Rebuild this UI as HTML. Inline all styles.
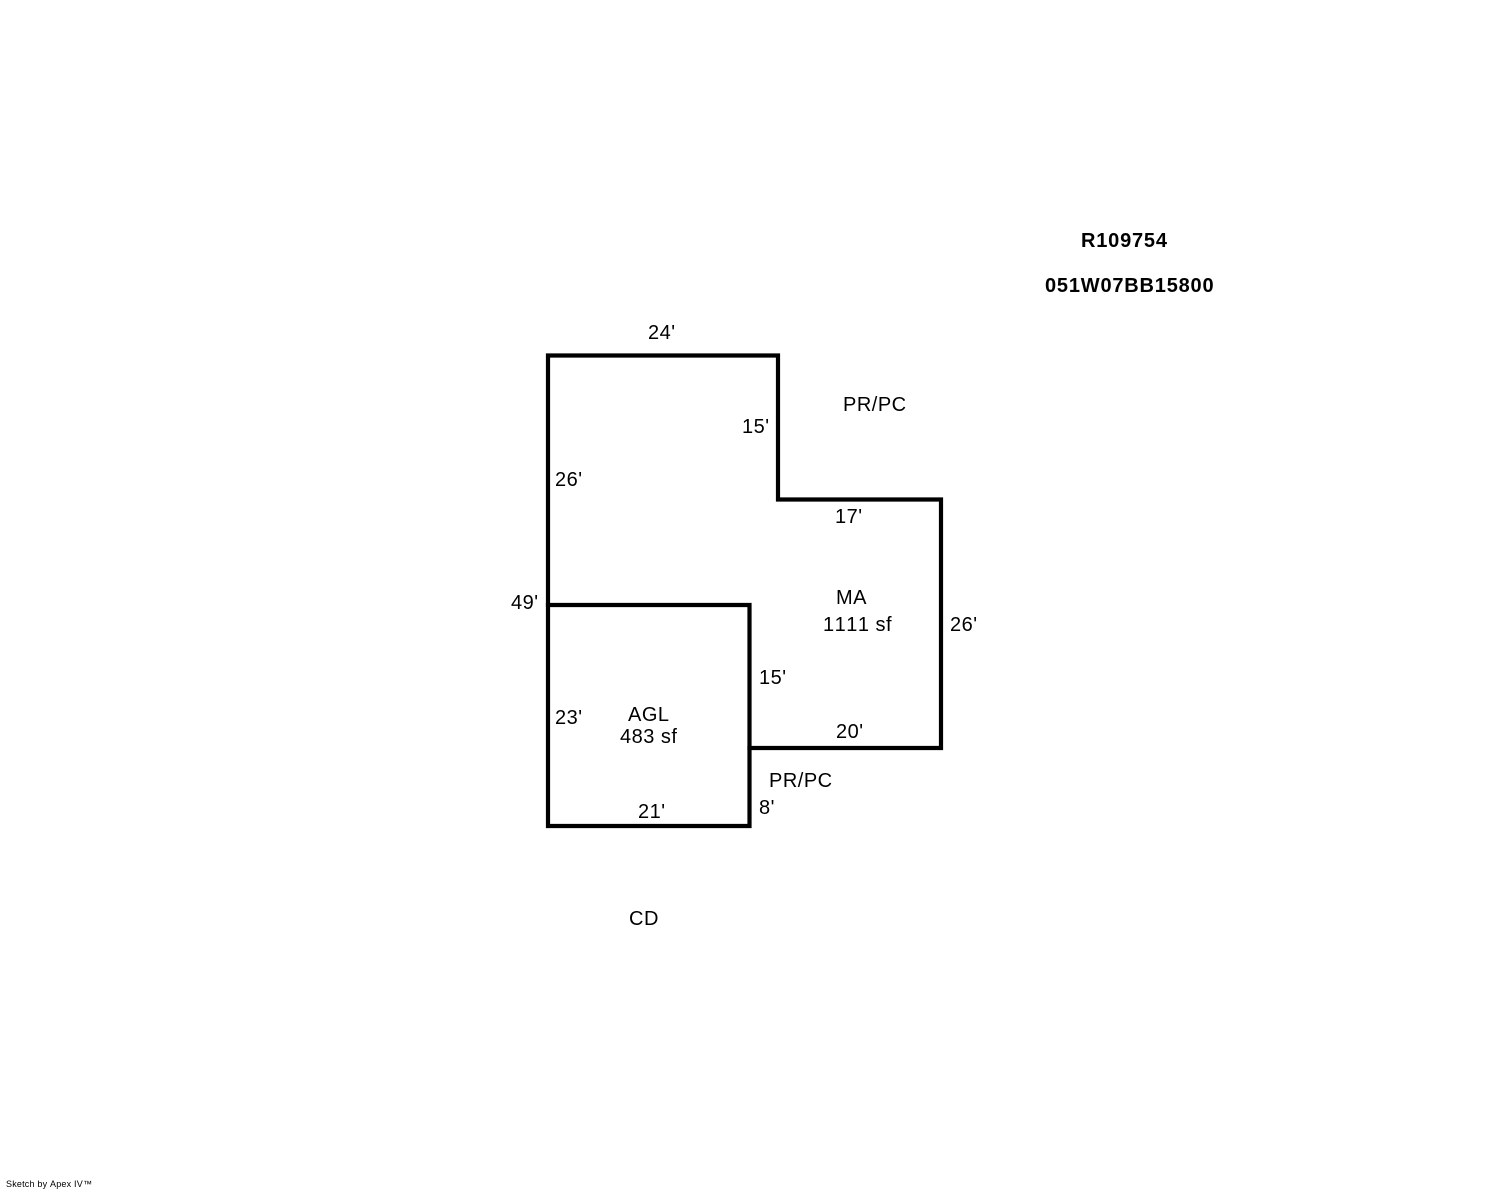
<!DOCTYPE html>
<html><head><meta charset="utf-8"><style>
html,body{margin:0;padding:0;background:#fff;}
svg{display:block;}
text{font-family:"Liberation Sans",Arial,sans-serif;font-size:20px;fill:#000;font-kerning:none;letter-spacing:0.5px;}
.b{font-weight:bold;letter-spacing:0.8px;}
</style></head><body>
<svg width="1488" height="1190" viewBox="0 0 1488 1190" xmlns="http://www.w3.org/2000/svg">
<rect width="1488" height="1190" fill="#fff"/>
<g fill="none" stroke="#000" stroke-width="4.2" stroke-linejoin="miter" stroke-linecap="square">
<polygon points="548,355.5 778,355.5 778,499.5 941,499.5 941,748 749.5,748 749.5,826 548,826"/>
<polyline points="548,605 749.5,605 749.5,748"/>
</g>
<text class="b" x="1081" y="247">R109754</text>
<text class="b" x="1045" y="292">051W07BB15800</text>
<text x="648" y="339">24'</text>
<text x="843" y="411">PR/PC</text>
<text x="742" y="433">15'</text>
<text x="555" y="486">26'</text>
<text x="835" y="523">17'</text>
<text x="836" y="604">MA</text>
<text x="823" y="631">1111 sf</text>
<text x="950" y="631">26'</text>
<text x="511" y="609">49'</text>
<text x="759" y="684">15'</text>
<text x="628" y="721">AGL</text>
<text x="555" y="724">23'</text>
<text x="620" y="743">483 sf</text>
<text x="836" y="738">20'</text>
<text x="769" y="787">PR/PC</text>
<text x="759" y="814">8'</text>
<text x="638" y="818">21'</text>
<text x="629" y="925">CD</text>
<text x="6" y="1187" style="font-size:9px;letter-spacing:0.2px">Sketch by Apex IV™</text>
</svg>
</body></html>
